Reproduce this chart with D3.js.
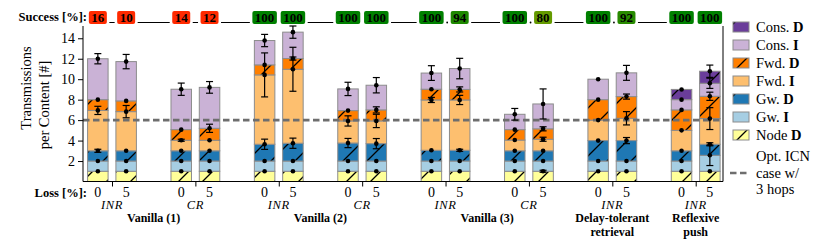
<!DOCTYPE html>
<html>
<head>
<meta charset="utf-8">
<script src="https://cdn.jsdelivr.net/npm/d3@7"></script>
<style>
  body { margin: 0; background: #fff; }
</style>
</head>
<body>
<div id="chart"></div>
<script>

// pairs of bars (loss 0 % / loss 5 %)
const pairs = ["V1-INR", "V1-CR", "V2-INR", "V2-CR", "V3-INR", "V3-CR", "DT-INR", "RP-INR"]
const retrieval = ["INR", "CR", "INR", "CR", "INR", "CR", "INR", "INR"]
const losses = ["0", "5"]
const groupNames = [["Vanilla (1)"], ["Vanilla (2)"], ["Vanilla (3)"], ["Delay-tolerant", "retrieval"], ["Reflexive", "push"]]
const groupPairs = [[0, 1], [2, 3], [4, 5], [6], [7]]

const success = [16, 10, 14, 12, 100, 100, 100, 100, 100, 94, 100, 80, 100, 92, 100, 100]

// stacked segments, one value per bar (pair 0 loss 0, pair 0 loss 5, ...)
const nodeD = [1, 1, 1, 1, 1, 1, 1, 1, 1, 1, 1, 1, 1, 1, 1, 1]
const gwI   = [1, 1, 1, 1, 1, 1, 1, 1, 1, 1, 1, 1, 1, 1, 1, 1.56]
const gwD   = [1.0, 1.0, 1.0, 1.0, 1.64, 1.74, 1.76, 1.7, 1.05, 1.05, 1.0, 1.0, 2.0, 2.0, 1.0, 1.08]
const fwdI  = [3.95, 3.83, 1.03, 1.03, 6.78, 7.23, 2.16, 2.22, 4.92, 4.92, 1.05, 1.13, 2.0, 2.18, 2.0, 2.51]
const fwdD  = [1.05, 1.05, 1.04, 1.17, 0.98, 1.05, 1.01, 1.08, 1.05, 1.03, 1.02, 1.02, 2.0, 2.12, 2.0, 2.18]
const consI = [4.0, 3.84, 3.95, 4.0, 2.38, 2.58, 2.12, 2.41, 1.58, 2.04, 1.5, 2.43, 2.0, 2.32, 1.0, 1.27]
const consD = [0, 0, 0, 0, 0, 0, 0, 0, 0, 0, 0, 0, 0, 0, 1.0, 1.18]

// error (half length) at the top of each segment
const errNodeD = [0, 0, 0, 0, 0, 0, 0, 0, 0, 0, 0, 0.1, 0, 0, 0, 0]
const errGwI   = [0, 0, 0, 0, 0, 0, 0, 0, 0, 0, 0, 0, 0, 0, 0, 1.0]
const errGwD   = [0.15, 0, 0, 0, 0.5, 0.5, 0.45, 0.5, 0, 0.1, 0, 0, 0, 0.3, 0, 0.15]
const errFwdI  = [0.4, 0.6, 0.1, 0, 2.15, 2.15, 0.5, 0.65, 0.25, 0.45, 0, 0.2, 0, 0.65, 0, 1.07]
const errFwdD  = [0, 0, 0, 0.4, 0, 0.15, 0, 0.3, 0, 0.25, 0, 0.2, 0, 0.25, 0, 0.4]
const errConsI = [0.5, 0.7, 0.6, 0.57, 0.6, 0.6, 0.65, 0.75, 0.72, 1.0, 0.57, 1.47, 0, 0.73, 0, 0.5]
const errConsD = [0, 0, 0, 0, 0, 0, 0, 0, 0, 0, 0, 0, 0, 0, 0, 0.6]

const optLine = 6
const yTicks = [2, 4, 6, 8, 10, 12, 14]

const keys = ["nodeD", "gwI", "gwD", "fwdI", "fwdD", "consI", "consD"]
const keyNames = { nodeD: ["Node", "D"], gwI: ["Gw.", "I"], gwD: ["Gw.", "D"], fwdI: ["Fwd.", "I"], fwdD: ["Fwd.", "D"], consI: ["Cons.", "I"], consD: ["Cons.", "D"] }
const colors = { nodeD: "#ffff99", gwI: "#a6cee3", gwD: "#1f78b4", fwdI: "#fdbf6f", fwdD: "#ff7f00", consI: "#cab2d6", consD: "#6a3d9a" }
const hatched = { nodeD: true, gwI: false, gwD: true, fwdI: false, fwdD: true, consI: false, consD: true }

const seriesVals = { nodeD, gwI, gwD, fwdI, fwdD, consI, consD }
const seriesErr = { nodeD: errNodeD, gwI: errGwI, gwD: errGwD, fwdI: errFwdI, fwdD: errFwdD, consI: errConsI, consD: errConsD }

var table = []
pairs.forEach(function(p, i) {
	losses.forEach(function(l, j) {
		var k = i * 2 + j
		var row = { pair: p, loss: l, idx: k, success: success[k] }
		keys.forEach(function(key) { row[key] = seriesVals[key][k] })
		table.push(row)
	})
})

const width = 830, height = 249
const serif = "'Liberation Serif', 'Times New Roman', serif"

const svg = d3.select("#chart").append("svg")
	.attr("width", width)
	.attr("height", height)
	.attr("font-family", serif)

var defs = svg.append("defs")
keys.filter(k => hatched[k]).forEach(function(k) {
	var pat = defs.append("pattern")
		.attr("id", "hatch-" + k)
		.attr("patternUnits", "userSpaceOnUse")
		.attr("width", 24)
		.attr("height", 24)
	pat.append("rect").attr("width", 24).attr("height", 24).attr("fill", colors[k])
	pat.append("path")
		.attr("d", "M-2,26 L26,-2 M-2,2 L2,-2 M22,26 L26,22")
		.attr("stroke", "#000")
		.attr("stroke-width", 1.3)
})

function fillOf(k) { return hatched[k] ? "url(#hatch-" + k + ")" : colors[k] }

var plotLeft = 83, plotRight = 723

var y = d3.scaleLinear()
	.domain([0, 15.2])
	.range([181.5, 26])

var x = d3.scalePoint()
	.domain(pairs)
	.range([112, 695.7])

var xIn = d3.scaleBand()
	.domain(losses)
	.range([-24.4, 24.4])
	.paddingInner(0.276)

function barX(d) { return x(d.pair) + xIn(d.loss) }
function barC(d) { return x(d.pair) + xIn(d.loss) + xIn.bandwidth() / 2 }

var stack = d3.stack().keys(keys)
var layers = stack(table)

var bars = svg.append("g")

bars.selectAll("g.layer")
	.data(layers)
	.enter().append("g")
	.attr("class", "layer")
	.selectAll("rect")
	.data(function(L) { return L.map(d => ({ key: L.key, d: d })).filter(o => o.d[1] - o.d[0] > 0) })
	.enter().append("rect")
		.attr("x", o => barX(o.d.data))
		.attr("width", xIn.bandwidth())
		.attr("y", o => y(o.d[1]))
		.attr("height", o => y(o.d[0]) - y(o.d[1]))
		.attr("fill", o => fillOf(o.key))
		.attr("stroke", "#8c8c8c")
		.attr("stroke-width", 1)

// optimal ICN line
svg.append("line")
	.attr("x1", plotLeft)
	.attr("x2", plotRight)
	.attr("y1", y(optLine))
	.attr("y2", y(optLine))
	.attr("stroke", "#6e6e6e")
	.attr("stroke-width", 2.6)
	.attr("stroke-dasharray", "6.5,3.5")

// dots + error bars at the top of every segment
var marks = svg.append("g")
layers.forEach(function(L) {
	L.forEach(function(d) {
		if (d[1] - d[0] <= 0) return
		var cx = barC(d.data)
		var e = seriesErr[L.key][d.data.idx]
		if (e > 0) {
			marks.append("line")
				.attr("x1", cx).attr("x2", cx)
				.attr("y1", y(d[1] - e)).attr("y2", y(d[1] + e))
				.attr("stroke", "#000").attr("stroke-width", 1.2)
			;[d[1] - e, d[1] + e].forEach(function(v) {
				marks.append("line")
					.attr("x1", cx - 3.5).attr("x2", cx + 3.5)
					.attr("y1", y(v)).attr("y2", y(v))
					.attr("stroke", "#000").attr("stroke-width", 1.2)
			})
		}
		marks.append("circle")
			.attr("cx", cx)
			.attr("cy", y(d[1]))
			.attr("r", 2.3)
			.attr("fill", "#000")
	})
})

// axes
var yAxis = d3.axisLeft(y).tickValues(yTicks).tickSize(5).tickPadding(3).tickFormat(d3.format("d"))
var gy = svg.append("g")
	.attr("transform", "translate(" + plotLeft + ",0)")
	.call(yAxis)
gy.attr("font-family", serif).attr("font-size", 14)
gy.select(".domain").remove()
gy.selectAll("text").attr("fill", "#000")
gy.selectAll("line").attr("stroke", "#000")

svg.append("line")
	.attr("x1", plotLeft).attr("x2", plotLeft)
	.attr("y1", y(0)).attr("y2", y.range()[1])
	.attr("stroke", "#000").attr("stroke-width", 1)
svg.append("line")
	.attr("x1", plotRight).attr("x2", plotRight)
	.attr("y1", y(0)).attr("y2", y.range()[1])
	.attr("stroke", "#000").attr("stroke-width", 1)
svg.append("line")
	.attr("x1", plotLeft).attr("x2", plotRight)
	.attr("y1", y(0)).attr("y2", y(0))
	.attr("stroke", "#000").attr("stroke-width", 1.2)

var xAxis = d3.axisBottom(x).tickSize(5).tickFormat("")
var gx = svg.append("g")
	.attr("transform", "translate(0," + y(0) + ")")
	.call(xAxis)
gx.select(".domain").remove()
gx.selectAll("line").attr("stroke", "#000")

// y label
svg.append("text")
	.attr("transform", "translate(31,88) rotate(-90)")
	.attr("text-anchor", "middle")
	.attr("font-size", 14.5)
	.text("Transmissions")
svg.append("text")
	.attr("transform", "translate(49,105) rotate(-90)")
	.attr("text-anchor", "middle")
	.attr("font-size", 14.5)
	.text("per Content [#]")

// x labels
svg.append("text")
	.attr("font-weight", "bold")
	.attr("x", 87)
	.attr("y", 197)
	.attr("text-anchor", "end")
	.attr("font-size", 12.5)
	.text("Loss [%]:")

svg.append("g").selectAll("text")
	.data(table)
	.enter().append("text")
		.attr("x", d => barC(d))
		.attr("y", 197)
		.attr("text-anchor", "middle")
		.attr("font-size", 14)
		.text(d => d.loss)

svg.append("g").selectAll("text")
	.data(pairs)
	.enter().append("text")
		.attr("x", d => x(d))
		.attr("y", 209)
		.attr("text-anchor", "middle")
		.attr("font-size", 12.5)
		.attr("font-style", "italic")
		.attr("letter-spacing", 0.6)
		.text((d, i) => retrieval[i])

groupNames.forEach(function(lines, g) {
	var ps = groupPairs[g]
	var cx = d3.mean(ps, i => x(pairs[i]))
	lines.forEach(function(t, li) {
		svg.append("text")
			.attr("font-weight", "bold")
			.attr("x", cx)
			.attr("y", 222 + li * 13.5)
			.attr("text-anchor", "middle")
			.attr("font-size", 12)
			.text(t)
	})
})

// success row
var succColor = d3.scaleLinear()
	.domain([0, 20, 60, 100])
	.range(["#ff2a00", "#ff2a00", "#c8b400", "#008000"])

svg.append("text")
	.attr("font-weight", "bold")
	.attr("x", 87)
	.attr("y", 21)
	.attr("text-anchor", "end")
	.attr("font-size", 12.5)
	.text("Success [%]:")

var sRow = svg.append("g")
var boxes = []
table.forEach(function(d) {
	var t = sRow.append("text")
		.attr("font-weight", "bold")
		.attr("x", barC(d))
		.attr("y", 21.5)
		.attr("text-anchor", "middle")
		.attr("font-size", 13)
		.text(d.success)
	var w = Math.min(t.node().getComputedTextLength() + 5, 26)
	boxes.push({ x0: barC(d) - w / 2, x1: barC(d) + w / 2 })
	sRow.insert("rect", "text")
		.attr("x", barC(d) - w / 2)
		.attr("y", 11)
		.attr("width", w)
		.attr("height", 13)
		.attr("rx", 2)
		.attr("fill", succColor(d.success))
})
for (var i = 0; i < boxes.length - 1; i++) {
	var gap = boxes[i + 1].x0 - boxes[i].x1
	if (gap > 8) {
		sRow.append("line")
			.attr("x1", boxes[i].x1 + 2.5).attr("x2", boxes[i + 1].x0 - 2.5)
			.attr("y1", 22.5).attr("y2", 22.5)
			.attr("stroke", "#000").attr("stroke-width", 1)
	} else if (gap > 4) {
		sRow.append("circle")
			.attr("cx", (boxes[i].x1 + boxes[i + 1].x0) / 2)
			.attr("cy", 22.5).attr("r", 0.9).attr("fill", "#000")
	}
}

// legend
var legend = svg.append("g").attr("transform", "translate(733,0)")
var legKeys = keys.slice().reverse()
legKeys.forEach(function(k, i) {
	var cy = 27 + i * 18
	legend.append("rect")
		.attr("x", 0).attr("y", cy - 5)
		.attr("width", 16).attr("height", 10)
		.attr("fill", fillOf(k))
		.attr("stroke", "#8c8c8c")
	var t = legend.append("text")
		.attr("x", 23).attr("y", cy + 4.5)
		.attr("font-size", 14.5)
	t.append("tspan").text(keyNames[k][0] + " ")
	t.append("tspan").attr("font-weight", "bold").text(keyNames[k][1])
})
legend.append("line")
	.attr("x1", -3).attr("x2", 15)
	.attr("y1", 173).attr("y2", 173)
	.attr("stroke", "#6e6e6e")
	.attr("stroke-width", 2.6)
	.attr("stroke-dasharray", "6.5,3.5")
;["Opt. ICN", "case w/", "3 hops"].forEach(function(t, i) {
	legend.append("text")
		.attr("x", 23).attr("y", 161 + i * 16.5)
		.attr("font-size", 14.5)
		.text(t)
})

</script>
</body>
</html>
